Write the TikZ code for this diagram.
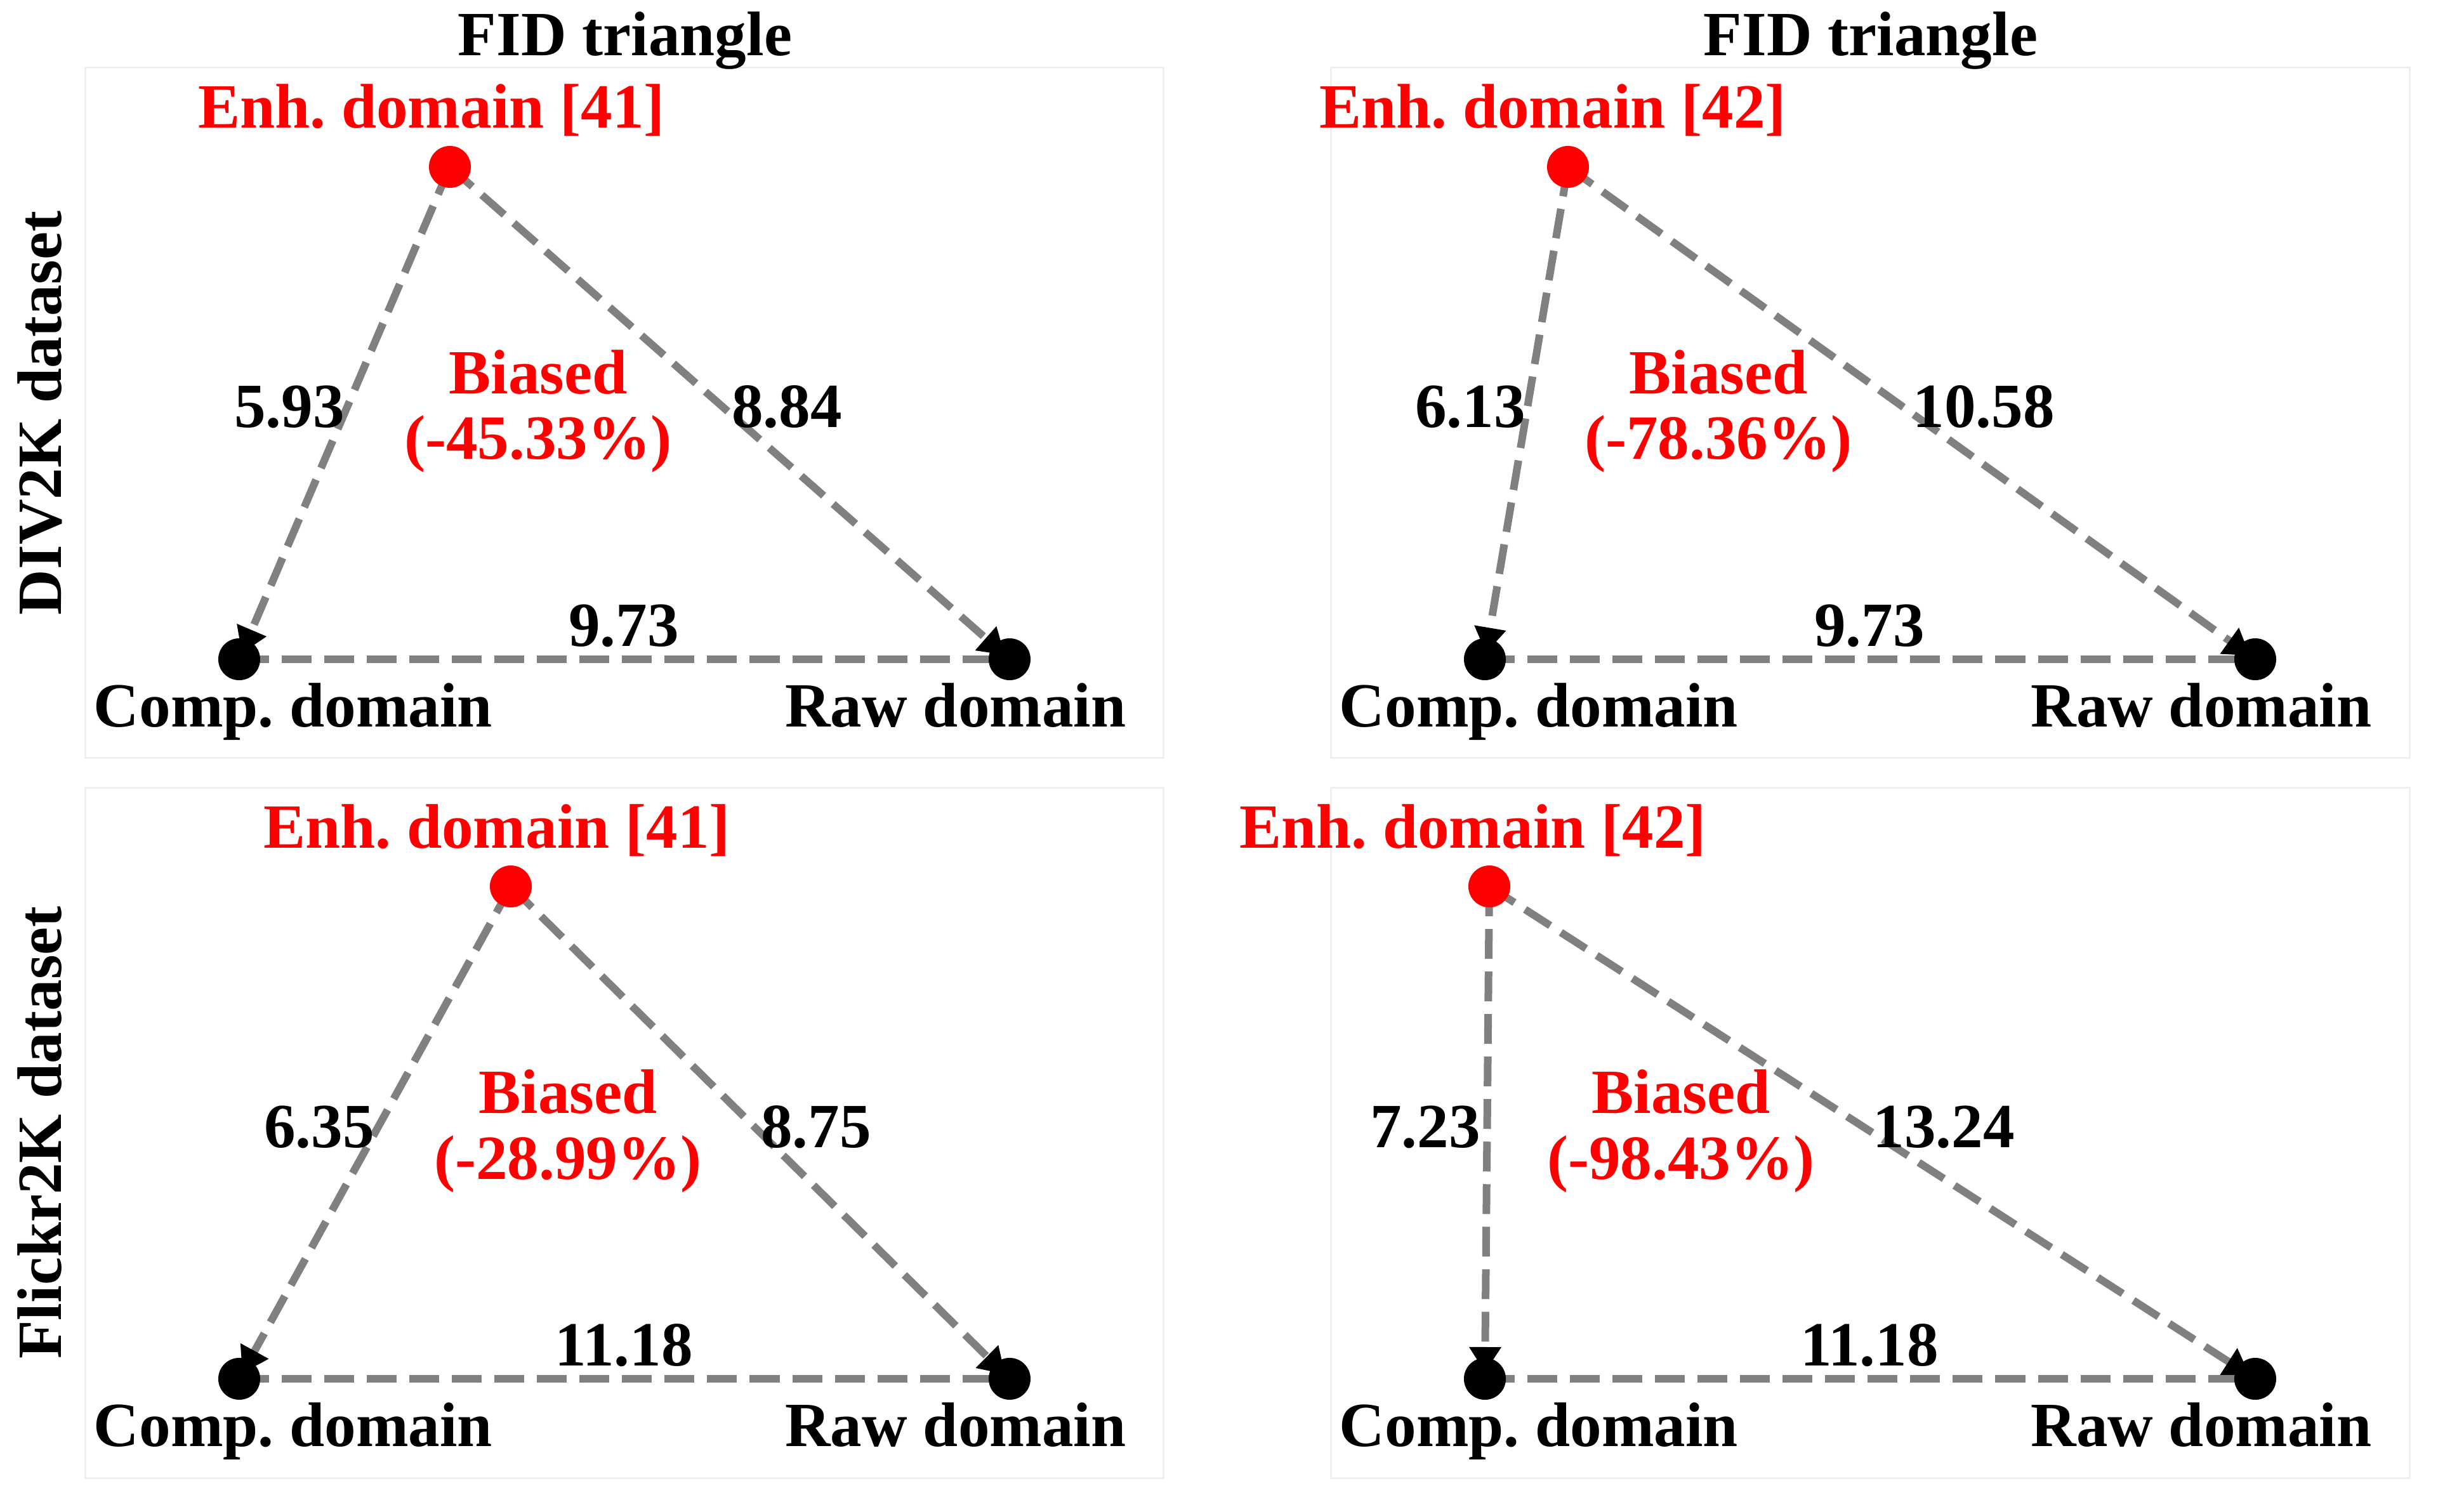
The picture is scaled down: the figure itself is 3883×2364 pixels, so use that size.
\documentclass[tikz,border=0pt]{standalone}
\usepackage{fontspec}
\setmainfont{Liberation Serif}
\usetikzlibrary{arrows.meta}
\definecolor{edgegray}{HTML}{808080}
\definecolor{framegray}{HTML}{EFEFEF}
\definecolor{enhred}{HTML}{FF0000}
\pgfdeclarelayer{bg}
\pgfsetlayers{bg,main}
\frenchspacing
\begin{document}
\begin{tikzpicture}[x=0.01cm,y=-0.01cm,
  txt/.style={anchor=base,inner sep=0pt,font=\fontsize{28.2}{34}\selectfont\bfseries},
  redtxt/.style={txt,text=enhred},
  frame/.style={draw=framegray,line width=0.03cm},
  link/.style={draw=edgegray,line width=0.12cm,dash pattern=on 0.47cm off 0.2cm},
  arr/.style={link,-{Triangle[length=0.4cm,width=0.48cm,color=black,fill=black]},shorten >=0.1cm},
  dotb/.style={circle,fill=black,inner sep=0pt,minimum size=0.66cm},
  dotr/.style={circle,fill=enhred,inner sep=0pt,minimum size=0.66cm}]
\useasboundingbox (0,0) rectangle (3883,2364);

% frames
\draw[frame] (134,107) rectangle (1833,1194);
\draw[frame] (2097,107) rectangle (3797,1194);
\draw[frame] (134,1241) rectangle (1833,2329);
\draw[frame] (2097,1241) rectangle (3797,2329);

% titles
\node[txt] (t1) at (985,88) {FID triangle};
\node[txt] (t2) at (2948,88) {FID triangle};
\node[txt,rotate=90] (r1) at (97,651) {DIV2K dataset};
\node[txt,rotate=90] (r2) at (97,1785) {Flickr2K dataset};

% ---- panel TL
\node[dotr] (E1) at (709,263) {};
\node[dotb] (C1) at (377,1039) {};
\node[dotb] (W1) at (1591,1039) {};
\begin{pgfonlayer}{bg}
\draw[arr] (E1.center) -- (C1.center);
\draw[arr] (E1.center) -- (W1.center);
\draw[link] (C1.center) -- (W1.center);
\end{pgfonlayer}
\node[redtxt] (le1) at (680,202) {Enh. domain [41]};
\node[txt] (lc1) at (462,1145) {Comp. domain};
\node[txt] (lw1) at (1506,1145) {Raw domain};
\node[txt] (n1a) at (456,674) {5.93};
\node[txt] (n1b) at (1240,674) {8.84};
\node[txt] (n1c) at (983,1018) {9.73};
\node[redtxt] (b1) at (848,620) {Biased};
\node[redtxt] (p1) at (848,724) {(-45.33\%)};

% ---- panel TR
\node[dotr] (E2) at (2471,263) {};
\node[dotb] (C2) at (2340,1039) {};
\node[dotb] (W2) at (3554,1039) {};
\begin{pgfonlayer}{bg}
\draw[arr] (E2.center) -- (C2.center);
\draw[arr] (E2.center) -- (W2.center);
\draw[link] (C2.center) -- (W2.center);
\end{pgfonlayer}
\node[redtxt] (le2) at (2447,202) {Enh. domain [42]};
\node[txt] (lc2) at (2425,1145) {Comp. domain};
\node[txt] (lw2) at (3469,1145) {Raw domain};
\node[txt] (n2a) at (2317,674) {6.13};
\node[txt] (n2b) at (3126,674) {10.58};
\node[txt] (n2c) at (2946,1018) {9.73};
\node[redtxt] (b2) at (2708,620) {Biased};
\node[redtxt] (p2) at (2708,724) {(-78.36\%)};

% ---- panel BL
\node[dotr] (E3) at (805,1397) {};
\node[dotb] (C3) at (377,2173) {};
\node[dotb] (W3) at (1591,2173) {};
\begin{pgfonlayer}{bg}
\draw[arr] (E3.center) -- (C3.center);
\draw[arr] (E3.center) -- (W3.center);
\draw[link] (C3.center) -- (W3.center);
\end{pgfonlayer}
\node[redtxt] (le3) at (783,1336) {Enh. domain [41]};
\node[txt] (lc3) at (462,2279) {Comp. domain};
\node[txt] (lw3) at (1506,2279) {Raw domain};
\node[txt] (n3a) at (503,1808) {6.35};
\node[txt] (n3b) at (1286,1808) {8.75};
\node[txt] (n3c) at (983,2152) {11.18};
\node[redtxt] (b3) at (895,1754) {Biased};
\node[redtxt] (p3) at (895,1858) {(-28.99\%)};

% ---- panel BR
\node[dotr] (E4) at (2347,1397) {};
\node[dotb] (C4) at (2340,2173) {};
\node[dotb] (W4) at (3554,2173) {};
\begin{pgfonlayer}{bg}
\draw[arr] (E4.center) -- (C4.center);
\draw[arr] (E4.center) -- (W4.center);
\draw[link] (C4.center) -- (W4.center);
\end{pgfonlayer}
\node[redtxt] (le4) at (2321,1336) {Enh. domain [42]};
\node[txt] (lc4) at (2425,2279) {Comp. domain};
\node[txt] (lw4) at (3469,2279) {Raw domain};
\node[txt] (n4a) at (2246,1808) {7.23};
\node[txt] (n4b) at (3063,1808) {13.24};
\node[txt] (n4c) at (2946,2152) {11.18};
\node[redtxt] (b4) at (2649,1754) {Biased};
\node[redtxt] (p4) at (2649,1858) {(-98.43\%)};
\end{tikzpicture}
\end{document}
